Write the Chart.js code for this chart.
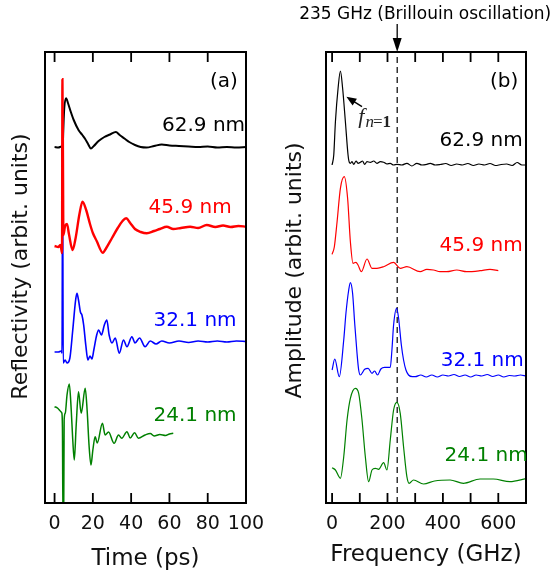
<!DOCTYPE html>
<html>
<head>
<meta charset="utf-8">
<script src="https://cdn.jsdelivr.net/npm/chart.js@4"></script>
<style>
  html, body { margin: 0; padding: 0; background: #fff; }
  #wrap { position: relative; width: 557px; height: 573px; }
  .panel { position: absolute; top: 0; height: 573px; }
  #pa { left: 0; width: 280px; }
  #pb { left: 280px; width: 277px; }
</style>
</head>
<body>
<div id="wrap">
  <div class="panel" id="pa"><canvas id="chartA"></canvas></div>
  <div class="panel" id="pb"><canvas id="chartB"></canvas></div>
</div>
<script>
// Film thicknesses and their colours, top trace first
const thickness = ["62.9 nm", "45.9 nm", "32.1 nm", "24.1 nm"];
const colors = ["#000000", "#ff0000", "#0000ff", "#008000"];
// vertical offsets of each trace (arbit. units)
const timeOffsets = [356, 257, 151, 68];
const freqOffsets = [338, 232, 127, 22];
const timeTicks = [0, 20, 40, 60, 80, 100];
const freqTicks = [0, 100, 200, 300, 400, 500, 600, 700];
const freqLabelled = [0, 200, 400, 600];
const brillouinGHz = 235;

// (a) reflectivity change vs time (ps), relative to each baseline
const refl629 = [[0,0],[2,-0.5],[3.6,0.5],[3.9,-1],[4.1,-15],[4.4,7],[5,37],[6,48.7],[7,44],[8.5,35],[10,27],[12.5,17],[14.5,12],[16,8],[17.5,3],[19,-1.5],[20.5,1],[23,6],[26,10],[29,12.5],[32,15],[34,12],[36.5,8.5],[39,5],[42,2],[45,0],[48,-0.5],[52,1],[56,2.5],[60,1.5],[65,1],[70,0.5],[75,0],[80,0.5],[85,-0.5],[90,0],[95,-0.5],[100,0]];
const refl459 = [[0,0],[2,-1],[3,1],[3.6,-4],[3.9,-7],[4.1,166.7],[4.4,80],[4.6,11],[5.5,20],[6.5,22],[7.5,12],[9.4,-4],[11,8],[13,32],[14.6,44.3],[16.5,36],[18.5,22],[20,13],[22,5],[25.2,-6.7],[27,-2],[30,8],[33,18],[35.5,25],[37.4,27.7],[39.5,23],[42,17],[45,14],[48.2,12.7],[52,15],[55,17],[58.6,19.3],[62,17],[66,18],[70.8,19.3],[75,18],[79.5,21],[84,19],[88,20.5],[92,19],[96,20],[100,19.3]];
const refl321 = [[0,0],[2,0],[3.5,1],[3.9,-1],[4.2,187],[4.5,-11],[5.5,-8],[6.5,-11],[8,-6],[9.5,22],[11,52],[11.7,58.7],[12.5,52],[13.5,40],[14.3,37],[15.2,27],[16.3,7],[17.4,-8],[18.5,-4],[19.5,-7],[20.5,2],[22,17],[23,22],[24.5,17],[26,27],[27.3,32],[28.5,17],[30,9],[31.7,14],[33.8,-1.3],[36,12],[37.8,5.3],[40.4,15.3],[42,9],[44.4,14],[47.3,5.3],[50,11],[53,8],[56,11],[60,9],[65,11],[70,9.5],[75,11],[80,10],[85,11],[90,10],[95,11],[100,10.5]];
const refl241 = [[0,28.3],[1.5,27],[2.5,25],[3.3,23.3],[3.8,22],[4.1,8],[4.4,-88],[4.6,-30],[4.75,-88],[5,15],[5.6,22],[6.5,40],[7.7,51],[8.7,25],[9.5,-5],[10.3,-25],[11.3,10],[12.5,43.3],[13.9,21.7],[16,46.7],[17,25],[18,-10],[19,-30],[20,-15],[21.2,-1.7],[22.3,-8],[25,11.7],[26.4,0],[28.2,3],[31.1,-8.3],[33.4,0],[35.1,-3.3],[37.8,3.3],[39.5,-3],[41.8,2.3],[43.8,-3.3],[47.3,0],[50,1.5],[52,-1],[55,0.5],[58,-0.5],[60,1],[62,1.7]];

// (b) FFT amplitude vs frequency (GHz), relative to each baseline
const amp629 = [[0,0],[6,10],[12,43.3],[21.6,76.7],[30,94],[38,76.7],[48,43.3],[57.6,10],[62,2.7],[66,1.7],[72,3.3],[78,0.7],[86.5,4],[93.6,1.7],[102,2.7],[110,4],[117.6,0.7],[126,3.3],[138,2.7],[150,4],[162,1.7],[174,3.3],[186,2.7],[198,1],[210,1.7],[222,0],[234,0.7],[252,0],[270,1.7],[288,-1],[306,1.7],[324,0],[342,0.7],[354,1.7],[372,0],[390,0.5],[410,1.5],[430,-0.5],[450,1],[470,0],[490,1.5],[510,-0.5],[530,1],[550,0],[570,1.5],[590,-0.5],[610,0.5],[630,1],[650,-0.5],[668,2.5],[685,0],[700,0]];
const amp459 = [[0,16.7],[8,24],[18,49.3],[30,82.7],[44,94.3],[56,72.7],[66,29.3],[75.6,7.7],[86,8.7],[93.6,6],[105.6,-0.7],[126,12],[144,2.7],[162,2.7],[186,4.3],[222,8.7],[246,2.7],[270,4.3],[318,-0.7],[342,1.7],[366,1],[390,-0.7],[414,-0.7],[450,1],[486,-0.7],[534,0.3],[570,1.7],[600,0.3]];
const amp321 = [[0,6],[9.6,17],[26,-0.7],[42,36],[50,62.7],[60,86],[66,93.3],[74,82.7],[81.6,52.7],[90,22.7],[96,6],[102,1],[117.6,6.7],[130,7.7],[144,2.7],[153.6,5],[164,1],[176,7],[189.6,8.7],[210,8.7],[216,26],[222,51],[233,67.7],[240,58],[250,31],[258,16],[266.6,6],[276,1],[290,-0.7],[300,-0.7],[320,1],[340,-1],[360,1],[380,-1],[400,1],[420,0],[440,1.5],[460,-0.5],[480,1],[500,-1],[520,1],[540,0],[560,1.5],[580,-0.5],[600,1],[620,-1],[640,0.5],[660,0],[680,1],[700,0]];
const amp241 = [[0,13.3],[12,11],[30,2.7],[42,24.3],[54,61],[66,82.7],[84,92.7],[96,87.7],[108,61],[120,24.3],[132,-0.7],[144,11],[156,12.7],[168,11.7],[186,18.3],[198,11],[210,41],[222,71],[234,78.7],[246,67.7],[258,34.3],[270,4.3],[278,-2.3],[294,1],[330,-3],[370,0],[426,1],[474,-2.3],[534,2],[582,2],[642,-0.7],[700,2.3]];

const FONT = "DejaVu Sans";
const TEXT = "#111";

function shifted(points, offset) {
  return points.map(([x, v]) => ({ x: x, y: v + offset }));
}

// frame, inward ticks on top and bottom, y title and the in-plot labels
function framePlugin(ticks, labels, yTitle) {
  return {
    id: "frame",
    afterDatasetsDraw(chart) {
      const { ctx, chartArea: a, scales: { x, y } } = chart;
      ctx.save();
      ctx.strokeStyle = "#000";
      ctx.lineWidth = 1.8;
      ticks.forEach((v) => {
        const px = x.getPixelForValue(v);
        ctx.beginPath();
        ctx.moveTo(px, a.bottom);
        ctx.lineTo(px, a.bottom - 10);
        ctx.moveTo(px, a.top);
        ctx.lineTo(px, a.top + 10);
        ctx.stroke();
      });
      ctx.lineWidth = 2;
      ctx.strokeRect(a.left, a.top, a.right - a.left, a.bottom - a.top);
      ctx.font = "20px '" + FONT + "'";
      ctx.textBaseline = "middle";
      labels.forEach((l) => {
        ctx.fillStyle = l.color;
        ctx.textAlign = l.align || "center";
        ctx.fillText(l.text, x.getPixelForValue(l.x), y.getPixelForValue(l.y));
      });
      // rotated y-axis title, sits a little above the plot centre
      ctx.save();
      ctx.translate(yTitle.left, (a.top + a.bottom) / 2 - yTitle.lift);
      ctx.rotate(-Math.PI / 2);
      ctx.fillStyle = TEXT;
      ctx.textAlign = "center";
      ctx.font = "22px '" + FONT + "'";
      ctx.fillText(yTitle.text, 0, 0);
      ctx.restore();
      ctx.restore();
    },
  };
}

// arrowhead helper
function arrowHead(ctx, x0, y0, x1, y1, len, half) {
  const ang = Math.atan2(y1 - y0, x1 - x0);
  ctx.beginPath();
  ctx.moveTo(x1, y1);
  ctx.lineTo(x1 - len * Math.cos(ang) + half * Math.sin(ang), y1 - len * Math.sin(ang) - half * Math.cos(ang));
  ctx.lineTo(x1 - len * Math.cos(ang) - half * Math.sin(ang), y1 - len * Math.sin(ang) + half * Math.cos(ang));
  ctx.closePath();
  ctx.fill();
}

const brillouinNote = {
  id: "brillouin",
  afterDraw(chart) {
    const { ctx, chartArea: a, scales: { x, y } } = chart;
    const bx = x.getPixelForValue(brillouinGHz);
    ctx.save();
    ctx.fillStyle = "#000";
    ctx.strokeStyle = "#000";
    ctx.font = "17px '" + FONT + "'";
    ctx.textAlign = "center";
    ctx.textBaseline = "middle";
    ctx.fillText("235 GHz (Brillouin oscillation)", x.getPixelForValue(336), 15);
    ctx.lineWidth = 1.3;
    ctx.beginPath();
    ctx.moveTo(bx, 24);
    ctx.lineTo(bx, a.top - 10);
    ctx.stroke();
    arrowHead(ctx, bx, 24, bx, a.top, 14, 4.5);
    // f_{n=1} with arrow to the first peak
    const x0 = x.getPixelForValue(108), y0 = y.getPixelForValue(396.3);
    const x1 = x.getPixelForValue(51.5), y1 = y.getPixelForValue(406.3);
    ctx.lineWidth = 1.4;
    ctx.beginPath();
    ctx.moveTo(x0, y0);
    ctx.lineTo(x1 + 6, y1 + 4);
    ctx.stroke();
    arrowHead(ctx, x0, y0, x1, y1, 10, 4);
    let tx = x.getPixelForValue(94.8);
    const base = y.getPixelForValue(380);
    ctx.textAlign = "left";
    ctx.textBaseline = "alphabetic";
    ctx.fillStyle = "#222";
    ctx.font = "italic 22px 'Liberation Serif'";
    ctx.fillText("f", tx, base);
    tx += ctx.measureText("f").width + 1;
    ctx.font = "italic 17px 'Liberation Serif'";
    ctx.fillText("n", tx, base + 4);
    tx += ctx.measureText("n").width - 1;
    ctx.font = "17px 'Liberation Serif'";
    ctx.fillText("=", tx, base + 4);
    tx += ctx.measureText("=").width;
    ctx.font = "bold 17px 'Liberation Serif'";
    ctx.fillText("1", tx, base + 4);
    ctx.restore();
  },
};

function xAxis(min, max, ticks, labelled, title, titlePad) {
  return {
    type: "linear",
    min: min,
    max: max,
    afterBuildTicks: (s) => { s.ticks = ticks.map((v) => ({ value: v })); },
    afterFit: (s) => { s.height = 70; },
    grid: { display: false, drawTicks: false },
    border: { display: false },
    ticks: {
      padding: 10,
      autoSkip: false,
      maxRotation: 0,
      color: TEXT,
      font: { family: FONT, size: 19 },
      callback: (v) => (labelled.includes(v) ? String(v) : ""),
    },
    title: { display: true, text: title, color: TEXT, font: { family: FONT, size: 23 }, padding: { top: 0, bottom: titlePad } },
  };
}

function yAxis(width) {
  return {
    type: "linear",
    min: 0,
    max: 451,
    afterFit: (s) => { s.width = width; },
    grid: { display: false, drawTicks: false },
    border: { display: false },
    ticks: { display: false },
  };
}

function traces(sets, offsets, width, drawOrder) {
  return sets.map((pts, i) => ({
    label: thickness[i],
    data: shifted(pts, offsets[i]),
    borderColor: colors[i],
    borderWidth: width[i],
    pointRadius: 0,
    fill: false,
    cubicInterpolationMode: "monotone",
    order: drawOrder[i],
  }));
}

const common = {
  animation: false,
  responsive: true,
  maintainAspectRatio: false,
  plugins: { legend: { display: false }, tooltip: { enabled: false } },
};

new Chart(document.getElementById("chartA"), {
  type: "line",
  data: { datasets: traces([refl629, refl459, refl321, refl241], timeOffsets, [2, 2.4, 1.6, 1.5], [1, 0, 2, 3]) },
  options: Object.assign({}, common, {
    layout: { padding: { top: 52, right: 34, left: 0, bottom: 0 } },
    scales: {
      x: xAxis(-5, 100, timeTicks, timeTicks, "Time (ps)", 0),
      y: yAxis(45),
    },
  }),
  plugins: [framePlugin(timeTicks, [
    { text: "(a)", x: 88.5, y: 421, color: "#000" },
    { text: thickness[0], x: 99.5, y: 377, color: colors[0], align: "right" },
    { text: thickness[1], x: 70.8, y: 295, color: colors[1] },
    { text: thickness[2], x: 73.4, y: 182, color: colors[2] },
    { text: thickness[3], x: 73.4, y: 87, color: colors[3] },
  ], { text: "Reflectivity (arbit. units)", left: 21, lift: 11 })],
});

const brillouinLine = {
  label: "235 GHz",
  data: [{ x: brillouinGHz, y: 0 }, { x: brillouinGHz, y: 451 }],
  borderColor: "#000",
  borderWidth: 1.2,
  borderDash: [6, 4],
  pointRadius: 0,
  order: 5,
};

new Chart(document.getElementById("chartB"), {
  type: "line",
  data: { datasets: traces([amp629, amp459, amp321, amp241], freqOffsets, [1.2, 1.2, 1.2, 1.2], [1, 2, 3, 4]).concat([brillouinLine]) },
  options: Object.assign({}, common, {
    layout: { padding: { top: 52, right: 31, left: 0, bottom: 0 } },
    scales: {
      x: xAxis(-22, 700, freqTicks, freqLabelled, "Frequency (GHz)", 4),
      y: yAxis(46),
    },
  }),
  plugins: [framePlugin(freqTicks, [
    { text: "(b)", x: 621, y: 421, color: "#000" },
    { text: thickness[0], x: 538, y: 362, color: colors[0] },
    { text: thickness[1], x: 538, y: 257, color: colors[1] },
    { text: thickness[2], x: 542, y: 142, color: colors[2] },
    { text: thickness[3], x: 556, y: 47, color: colors[3] },
  ], { text: "Amplitude (arbit. units)", left: 15.5, lift: 7 }), brillouinNote],
});
</script>
</body>
</html>
